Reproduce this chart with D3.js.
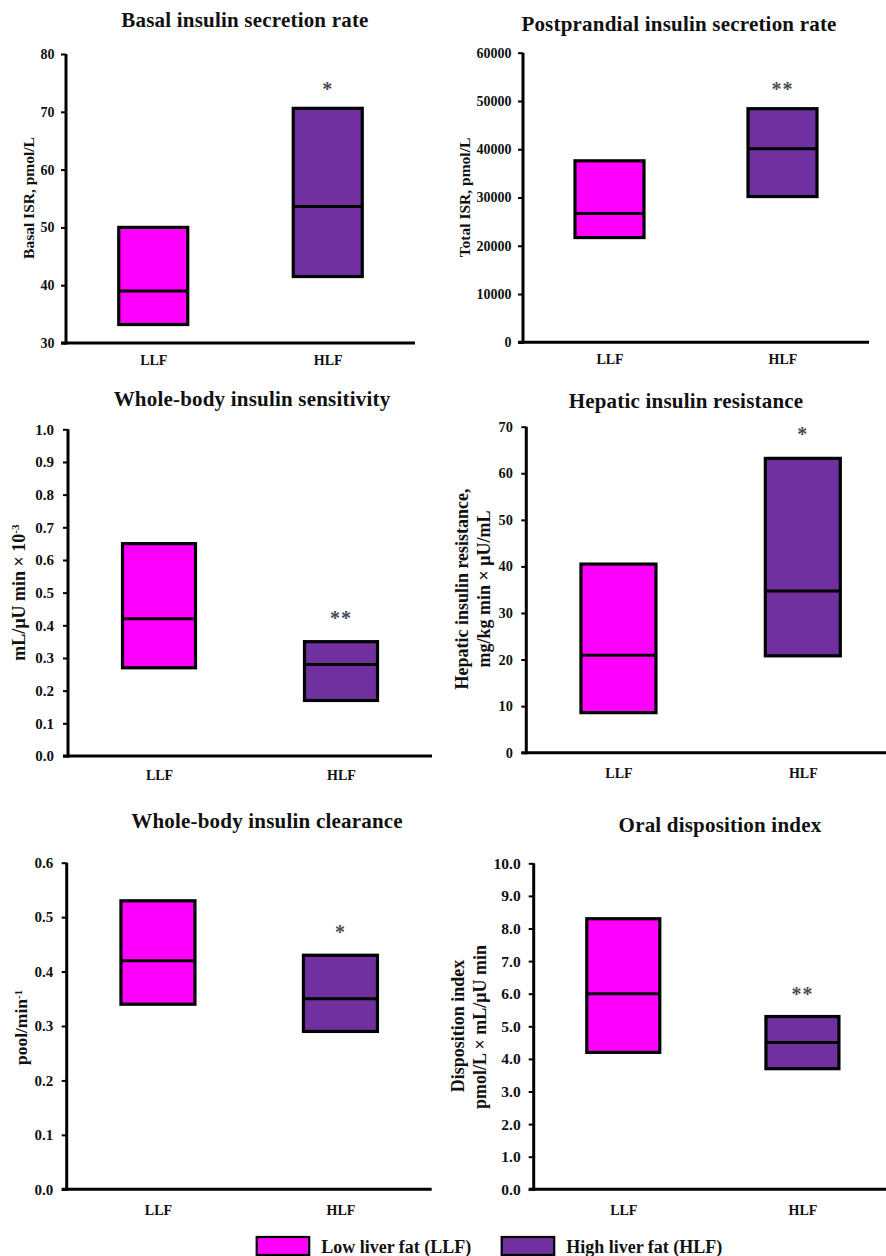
<!DOCTYPE html>
<html>
<head>
<meta charset="utf-8">
<script src="https://cdn.jsdelivr.net/npm/d3@7"></script>
<style>
  html, body { margin: 0; padding: 0; background: #fff; }
  svg { display: block; }
  text { font-family: "Liberation Serif", "Times New Roman", serif; font-weight: bold; fill: #111; }
</style>
</head>
<body>
<svg id="chart" width="886" height="1256"></svg>
<script>
// ---------------- data ----------------
const categories = ["LLF", "HLF"];
const seriesNames = ["Low liver fat (LLF)", "High liver fat (HLF)"];
const seriesColors = ["#FF00FF", "#7030A0"];

const panelTitles = [
  "Basal insulin secretion rate",
  "Postprandial insulin secretion rate",
  "Whole-body insulin sensitivity",
  "Hepatic insulin resistance",
  "Whole-body insulin clearance",
  "Oral disposition index"
];

// y-axis label lines; [main, superscript]
const yLabels = [
  [["Basal ISR, pmol/L", ""]],
  [["Total ISR, pmol/L", ""]],
  [["mL/\u03bcU min \u00d7 10", "-3"]],
  [["Hepatic insulin resistance,", ""], ["mg/kg min \u00d7 \u03bcU/mL", ""]],
  [["pool/min", "-1"]],
  [["Disposition index", ""], ["pmol/L \u00d7 mL/\u03bcU min", ""]]
];

const yDomains = [[30, 80], [0, 60000], [0, 1], [0, 70], [0, 0.6], [0, 10]];
const basalTicks = [30, 40, 50, 60, 70, 80];
const totalTicks = [0, 10000, 20000, 30000, 40000, 50000, 60000];
const sensTicks = [0, 0.1, 0.2, 0.3, 0.4, 0.5, 0.6, 0.7, 0.8, 0.9, 1.0];
const hepTicks = [0, 10, 20, 30, 40, 50, 60, 70];
const clearTicks = [0, 0.1, 0.2, 0.3, 0.4, 0.5, 0.6];
const diTicks = [0, 1, 2, 3, 4, 5, 6, 7, 8, 9, 10];
const tickFormats = ["d", "d", ".1f", "d", ".1f", ".1f"];

// box values per category [LLF, HLF]
const basalLow = [33.2, 41.5], basalMedian = [39.0, 53.6], basalHigh = [50.0, 70.6];
const totalLow = [21700, 30200], totalMedian = [26700, 40100], totalHigh = [37600, 48400];
const sensLow = [0.27, 0.17], sensMedian = [0.42, 0.28], sensHigh = [0.65, 0.35];
const hepLow = [8.6, 20.8], hepMedian = [20.9, 34.7], hepHigh = [40.5, 63.2];
const clearLow = [0.34, 0.29], clearMedian = [0.42, 0.35], clearHigh = [0.53, 0.43];
const diLow = [4.2, 3.7], diMedian = [6.0, 4.5], diHigh = [8.3, 5.3];

const significance = ["*", "**", "**", "*", "*", "**"]; // marks above HLF

const panelData = [
  { ticks: basalTicks, low: basalLow, med: basalMedian, high: basalHigh },
  { ticks: totalTicks, low: totalLow, med: totalMedian, high: totalHigh },
  { ticks: sensTicks, low: sensLow, med: sensMedian, high: sensHigh },
  { ticks: hepTicks, low: hepLow, med: hepMedian, high: hepHigh },
  { ticks: clearTicks, low: clearLow, med: clearMedian, high: clearHigh },
  { ticks: diTicks, low: diLow, med: diMedian, high: diHigh }
];

// ---------------- layout ----------------
const layout = [
  { x0: 66, x1: 415, yTop: 54, yBot: 343, bw: 69, tX: 245, tY: 26.5, lab: [[33.5, 198]], labFs: 15.5, tickFs: 14, tickGap: 6.5, starGap: 12, xDy: 22 },
  { x0: 523, x1: 869, yTop: 52.7, yBot: 342.3, bw: 69, tX: 679, tY: 30.5, lab: [[469.7, 197.5]], labFs: 15.5, tickFs: 14, tickGap: 6.5, starGap: 13, xDy: 22 },
  { x0: 68, x1: 432, yTop: 429.3, yBot: 756, bw: 73, tX: 252, tY: 405.5, lab: [[24.5, 592.5]], labFs: 18, tickFs: 15, tickGap: 9, starGap: 17, xDy: 24 },
  { x0: 526.3, x1: 895, yTop: 426.7, yBot: 752.7, bw: 75, tX: 686, tY: 408, lab: [[468, 589], [489.5, 589]], labFs: 18, tickFs: 14.3, tickGap: 8.5, starGap: 17, xDy: 25 },
  { x0: 66.7, x1: 431.7, yTop: 862.7, yBot: 1189.3, bw: 74, tX: 267, tY: 828, lab: [[27, 1027.5]], labFs: 17.5, tickFs: 15, tickGap: 8.5, starGap: 16, xDy: 26 },
  { x0: 533.7, x1: 892, yTop: 863.3, yBot: 1189.3, bw: 73, tX: 720, tY: 832, lab: [[463.5, 1026], [485.7, 1027]], labFs: 18, tickFs: 15.5, tickGap: 8, starGap: 16, xDy: 26 }
];

const svg = d3.select("#chart");

panelTitles.forEach((title, i) => {
  const L = layout[i], D = panelData[i];
  const g = svg.append("g");

  const y = d3.scaleLinear().domain(yDomains[i]).range([L.yBot, L.yTop]);
  const x = d3.scalePoint().domain(categories).range([L.x0, L.x1]).padding(0.5);

  // title
  g.append("text")
    .attr("x", L.tX).attr("y", L.tY)
    .attr("text-anchor", "middle")
    .style("font-size", "21px")
    .style("letter-spacing", "0.2px")
    .text(title);

  // y axis
  const yAxis = d3.axisLeft(y)
    .tickValues(D.ticks)
    .tickFormat(d3.format(tickFormats[i]))
    .tickSizeInner(5).tickSizeOuter(0)
    .tickPadding(L.tickGap);
  const ya = g.append("g").attr("transform", `translate(${L.x0},0)`).call(yAxis);
  ya.select(".domain").attr("stroke", "#000").attr("stroke-width", 3)
    .attr("d", `M0,${L.yTop}V${L.yBot + 1.5}`);
  ya.selectAll(".tick line").attr("stroke", "#000").attr("stroke-width", 2);
  ya.selectAll(".tick text")
    .style("font-size", L.tickFs + "px")
    .style("font-family", '"Liberation Serif", "Times New Roman", serif')
    .style("font-weight", "bold")
    .attr("fill", "#111");

  // x axis
  const xAxis = d3.axisBottom(x).tickSize(0).tickPadding(L.xDy - 10);
  const xa = g.append("g").attr("transform", `translate(0,${L.yBot})`).call(xAxis);
  xa.select(".domain").attr("stroke", "#000").attr("stroke-width", 3)
    .attr("d", `M${L.x0 - 5},0H${L.x1}`);
  xa.selectAll(".tick text")
    .style("font-size", "14px")
    .style("font-family", '"Liberation Serif", "Times New Roman", serif')
    .style("font-weight", "bold")
    .attr("fill", "#111");

  // boxes
  categories.forEach((c, k) => {
    const cx = x(c);
    g.append("rect")
      .attr("x", cx - L.bw / 2)
      .attr("y", y(D.high[k]))
      .attr("width", L.bw)
      .attr("height", y(D.low[k]) - y(D.high[k]))
      .attr("fill", seriesColors[k])
      .attr("stroke", "#000")
      .attr("stroke-width", 3.2);
    g.append("line")
      .attr("x1", cx - L.bw / 2).attr("x2", cx + L.bw / 2)
      .attr("y1", y(D.med[k])).attr("y2", y(D.med[k]))
      .attr("stroke", "#000").attr("stroke-width", 3);
  });

  // significance mark above HLF
  g.append("text")
    .attr("x", x("HLF"))
    .attr("y", y(D.high[1]) - L.starGap)
    .attr("text-anchor", "middle")
    .style("font-size", "20px")
    .style("font-weight", "bold")
    .style("letter-spacing", "1px")
    .style("fill", "#474a55")
    .text(significance[i]);

  // y label(s)
  yLabels[i].forEach((line, j) => {
    const [lx, ly] = L.lab[j];
    const t = g.append("text")
      .attr("transform", `translate(${lx},${ly}) rotate(-90)`)
      .attr("text-anchor", "middle")
      .style("font-size", L.labFs + "px");
    t.append("tspan").text(line[0]);
    if (line[1]) {
      t.append("tspan")
        .attr("dy", "-0.45em")
        .style("font-size", "0.62em")
        .text(line[1]);
    }
  });
});

// legend
const legendX = [256.7, 501.7];
const legendG = svg.append("g");
seriesNames.forEach((name, k) => {
  legendG.append("rect")
    .attr("x", legendX[k]).attr("y", 1237)
    .attr("width", 52.5).attr("height", 18)
    .attr("fill", seriesColors[k])
    .attr("stroke", "#000").attr("stroke-width", 2.2);
  legendG.append("text")
    .attr("x", legendX[k] + 64.5).attr("y", 1253)
    .style("font-size", "18px")
    .text(name);
});
</script>
</body>
</html>
